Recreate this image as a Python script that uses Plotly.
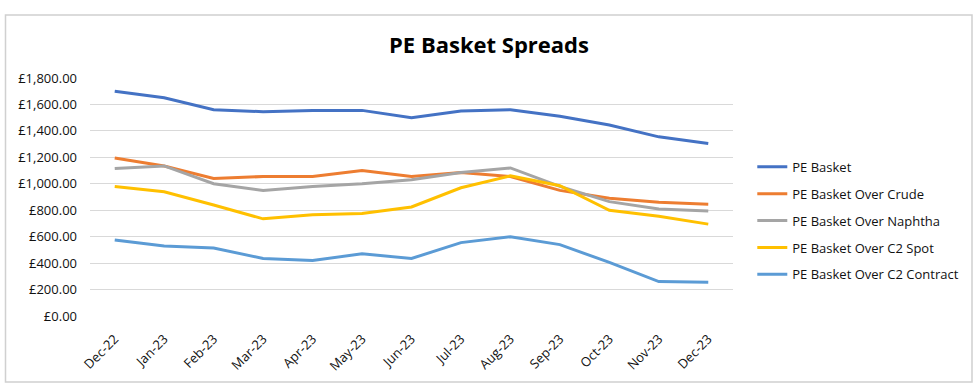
import plotly.graph_objects as go

months = ["Dec-22", "Jan-23", "Feb-23", "Mar-23", "Apr-23", "May-23", "Jun-23",
          "Jul-23", "Aug-23", "Sep-23", "Oct-23", "Nov-23", "Dec-23"]

pe_basket = [1700, 1650, 1560, 1545, 1555, 1555, 1500, 1550, 1560, 1510, 1445, 1355, 1305]
over_crude = [1195, 1135, 1040, 1055, 1055, 1100, 1055, 1085, 1055, 950, 890, 860, 845]
over_naphtha = [1115, 1135, 1000, 950, 980, 1000, 1030, 1085, 1120, 980, 865, 810, 795]
over_c2_spot = [980, 940, 840, 735, 765, 775, 825, 970, 1060, 985, 800, 755, 695]
over_c2_contract = [575, 530, 515, 435, 420, 470, 435, 555, 600, 540, 405, 260, 255]

series = [
    ("PE Basket", pe_basket, "#4472C4"),
    ("PE Basket Over Crude", over_crude, "#ED7D31"),
    ("PE Basket Over Naphtha", over_naphtha, "#A5A5A5"),
    ("PE Basket Over C2 Spot", over_c2_spot, "#FFC000"),
    ("PE Basket Over C2 Contract", over_c2_contract, "#5B9BD5"),
]

y_ticks = list(range(0, 1801, 200))
y_tick_labels = [f"£{v:,.2f}" for v in y_ticks]

FONT = "Open Sans, Segoe UI, Calibri, sans-serif"

fig = go.Figure()
for i, (name, vals, color) in enumerate(series):
    fig.add_trace(go.Scatter(
        x=months, y=vals, name=name, mode="lines",
        line=dict(color=color, width=3),
        legendgroup=f"g{i}",
    ))

fig.update_layout(
    width=980, height=388,
    margin=dict(l=90, r=247, t=78, b=72),
    paper_bgcolor="white", plot_bgcolor="white",
    font=dict(family=FONT, size=13, color="#111111"),
    title=dict(text="<b>PE Basket Spreads</b>", x=489/980, xanchor="center",
               xref="container", y=1 - 45/388, yanchor="middle", yref="container",
               font=dict(family=FONT, size=22, color="#000000")),
    xaxis=dict(type="category", range=[-0.5, 12.5], tickangle=-45,
               showgrid=False, showline=False, zeroline=False,
               ticks="", ticklabelstandoff=12,
               tickfont=dict(size=13, color="#111111")),
    yaxis=dict(range=[0, 1800], tickvals=y_ticks, ticktext=y_tick_labels,
               showgrid=True, gridcolor="#D9D9D9", gridwidth=1,
               zeroline=False, showline=False, ticks="", ticklabelstandoff=12,
               tickfont=dict(size=13, color="#111111")),
    legend=dict(x=1.03, xanchor="left", y=0.69, yanchor="top",
                tracegroupgap=7, font=dict(size=13, color="#111111"),
                bgcolor="rgba(0,0,0,0)"),
    showlegend=True,
)

# outer chart border
fig.add_shape(type="rect", xref="paper", yref="paper",
              x0=(5.5 - 90) / 643, x1=(972 - 90) / 643,
              y0=(316 - 382) / 238, y1=(316 - 15) / 238,
              line=dict(color="#D0D0D0", width=1.5), layer="below")

fig.write_html("out.html", config={"displayModeBar": False},
               post_script="document.body.style.margin='0';document.body.style.padding='0';")
